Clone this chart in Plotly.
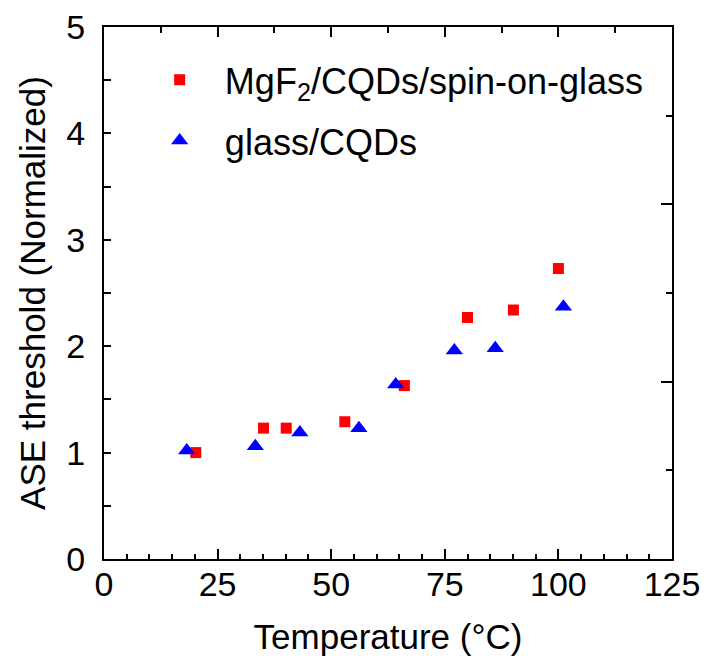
import plotly.graph_objects as go

# Data
mgf2_temp = [20.2, 35.1, 40.1, 53.0, 66.1, 80.0, 90.1, 100.0]
mgf2_thr = [1.00, 1.23, 1.23, 1.29, 1.63, 2.27, 2.34, 2.73]

glass_temp = [18.2, 33.3, 43.1, 56.1, 64.2, 77.1, 86.1, 101.1]
glass_thr = [1.02, 1.06, 1.19, 1.23, 1.64, 1.96, 1.98, 2.37]

x_ticks = [0, 25, 50, 75, 100, 125]
y_ticks = [0, 1, 2, 3, 4, 5]

FONT = "Liberation Sans, Arial, sans-serif"
PAD = "\u2002\u2009"

fig = go.Figure()
fig.add_trace(go.Scatter(
    x=mgf2_temp, y=mgf2_thr, mode="markers",
    name=PAD + "MgF<sub>2</sub>/CQDs/spin-on-glass",
    legendgroup="a",
    marker=dict(symbol="square", size=11, color="#FF0000", line=dict(width=0)),
))
fig.add_trace(go.Scatter(
    x=glass_temp, y=glass_thr, mode="markers",
    name=PAD + "glass/CQDs",
    legendgroup="b",
    marker=dict(symbol="triangle-up", size=15, color="#0000FF", line=dict(width=0)),
))
# empty trace to anchor the mirror (top/right) axes
fig.add_trace(go.Scatter(x=[], y=[], xaxis="x2", yaxis="y2", showlegend=False))

fig.update_layout(
    width=706, height=661,
    margin=dict(l=104, r=34, t=27, b=102, autoexpand=False),
    paper_bgcolor="white", plot_bgcolor="white",
    font=dict(family=FONT, size=34, color="black"),
    showlegend=True,
    legend=dict(
        x=0.098, y=0.957, xanchor="left", yanchor="top",
        bgcolor="rgba(0,0,0,0)", tracegroupgap=11,
        font=dict(family=FONT, size=36, color="black"),
        itemsizing="trace",
    ),
    xaxis=dict(
        range=[0, 125], tickvals=x_ticks, ticktext=[str(v) for v in x_ticks],
        ticks="inside", ticklen=10, tickwidth=2, tickcolor="black",
        minor=dict(dtick=5, tick0=0, ticks="inside", ticklen=5, tickwidth=1.5, tickcolor="black"),
        showline=True, linecolor="black", linewidth=2,
        showgrid=False, zeroline=False, automargin=False,
        ticklabelstandoff=-6,
        tickfont=dict(family=FONT, size=34),
        title=dict(text="Temperature (°C)", font=dict(family=FONT, size=35), standoff=23),
    ),
    yaxis=dict(
        range=[0, 5], tickvals=y_ticks, ticktext=[str(v) for v in y_ticks],
        ticks="inside", ticklen=7, tickwidth=1.5, tickcolor="black",
        minor=dict(dtick=0.5, tick0=0, ticks="inside", ticklen=7, tickwidth=1.5, tickcolor="black"),
        showline=True, linecolor="black", linewidth=2,
        showgrid=False, zeroline=False, automargin=False,
        ticklabelstandoff=10,
        tickfont=dict(family=FONT, size=34),
        title=dict(text="ASE threshold (Normalized)", font=dict(family=FONT, size=35), standoff=10),
    ),
    xaxis2=dict(
        overlaying="x", side="top", range=[0, 125], dtick=25, tick0=0,
        ticks="inside", ticklen=10, tickwidth=2, tickcolor="black",
        minor=dict(dtick=12.5, tick0=0, ticks="inside", ticklen=6, tickwidth=1.5, tickcolor="black"),
        showticklabels=False, showline=True, linecolor="black", linewidth=2,
        showgrid=False, zeroline=False, automargin=False,
    ),
    yaxis2=dict(
        overlaying="y", side="right", range=[0, 6], dtick=2, tick0=0,
        ticks="inside", ticklen=11, tickwidth=2, tickcolor="black",
        minor=dict(dtick=1, tick0=0, ticks="inside", ticklen=6, tickwidth=1.5, tickcolor="black"),
        showticklabels=False, showline=True, linecolor="black", linewidth=2,
        showgrid=False, zeroline=False, automargin=False,
    ),
)

fig.write_html(
    "out.html",
    config={"displayModeBar": False},
    post_script="document.body.style.margin='0';document.body.style.overflow='hidden';",
)
